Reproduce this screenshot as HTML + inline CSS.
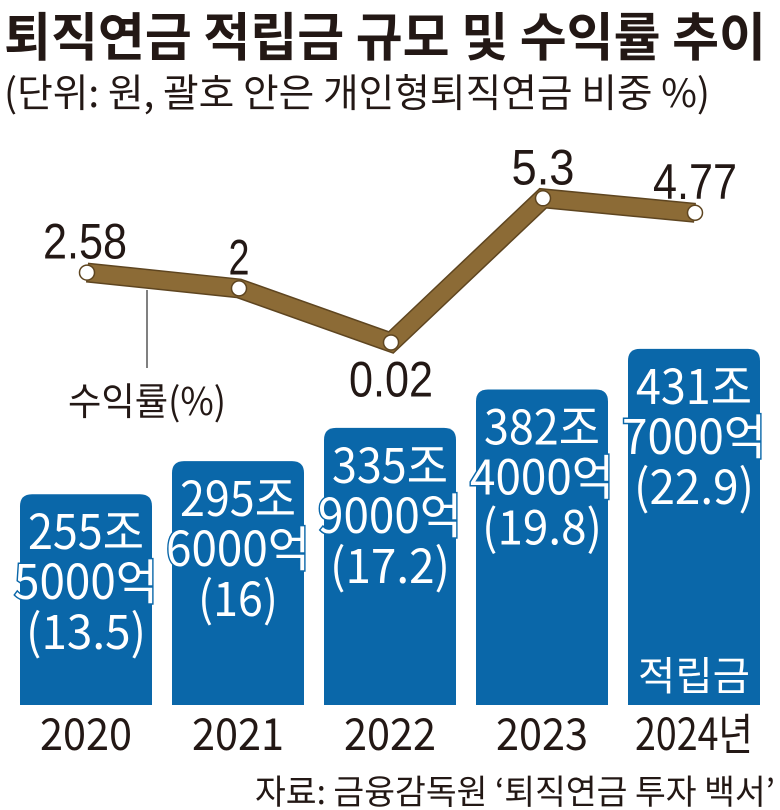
<!DOCTYPE html>
<html><head><meta charset="utf-8"><style>
html,body{margin:0;padding:0;background:#fff;}
svg{display:block;font-family:"Liberation Sans","Noto Sans CJK KR",sans-serif;}
</style></head><body>
<svg id="chart" width="780" height="810" viewBox="0 0 780 810">
<text x="4" y="56" font-size="52" font-weight="bold" fill="#231815" textLength="762" lengthAdjust="spacingAndGlyphs" font-family="Noto Sans CJK KR, sans-serif">퇴직연금 적립금 규모 및 수익률 추이</text>
<text x="4" y="107" font-size="39" fill="#231815" textLength="706" lengthAdjust="spacingAndGlyphs" font-family="Noto Sans CJK KR, sans-serif">(단위: 원, 괄호 안은 개인형퇴직연금 비중 %)</text>
<g id="bars"></g>
<g id="line"></g>
<line x1="147" y1="290" x2="147" y2="368" stroke="#555" stroke-width="1.5"/>
<text x="68" y="415" font-size="38" fill="#231815" textLength="158" lengthAdjust="spacingAndGlyphs" font-family="Noto Sans CJK KR, sans-serif">수익률(%)</text>
<text x="775" y="804" text-anchor="end" font-size="34" fill="#231815" textLength="520" lengthAdjust="spacingAndGlyphs" font-family="Noto Sans CJK KR, sans-serif">자료: 금융감독원 ‘퇴직연금 투자 백서’</text>
</svg>
<script>
const years = ["2020","2021","2022","2023","2024년"];
const amounts = [255.5, 295.6, 335.9, 382.4, 431.7];
const amountLine1 = ["255조","295조","335조","382조","431조"];
const amountLine2 = ["5000억","6000억","9000억","4000억","7000억"];
const irpShare = ["(13.5)","(16)","(17.2)","(19.8)","(22.9)"];
const returns = [2.58, 2, 0.02, 5.3, 4.77];
const returnLabels = ["2.58","2","0.02","5.3","4.77"];

const NS = "http://www.w3.org/2000/svg";
const baseY = 705, barW = 132;
function xCenter(i){ return 86 + i*152; }
function yBar(v){ return baseY - v*0.825; }
function yLine(v){ return 343 - v*27.3; }
function mk(tag, attrs, parent){ const e=document.createElementNS(NS,tag); for(const k in attrs) e.setAttribute(k,attrs[k]); parent.appendChild(e); return e; }

const gb = document.getElementById('bars');
amounts.forEach((v,i)=>{
  const cx = xCenter(i), top = yBar(v), x0 = cx-barW/2, r=12;
  const p = mk('path',{d:`M${x0},${baseY} V${top+r} Q${x0},${top} ${x0+r},${top} H${x0+barW-r} Q${x0+barW},${top} ${x0+barW},${top+r} V${baseY} Z`, fill:'#0a67a9'}, gb);
  
  
  const lines = [amountLine1[i], amountLine2[i], irpShare[i]];
  const widths = [116, 144, irpShare[i].length*20];
  lines.forEach((t,j)=>{
    const a = {x:cx, y: top+55+j*50, 'text-anchor':'middle', 'font-size':48, fill:'#fff', stroke:'#0a67a9', 'stroke-width':3, 'paint-order':'stroke', 'font-family':'Noto Sans CJK KR, sans-serif', textLength: widths[j], lengthAdjust:'spacingAndGlyphs'};
    const tx = mk('text', a, gb); tx.textContent = t;
    
    
  });
  const yl = mk('text',{x:cx, y:750, 'text-anchor':'middle', 'font-size':44, fill:'#231815', textLength: i==4?118:92, lengthAdjust:'spacingAndGlyphs', 'font-family':'Noto Sans CJK KR, sans-serif'}, gb);
  yl.textContent = years[i];
  
  
});
const sl = mk('text',{x:xCenter(4), y:690, 'text-anchor':'middle', 'font-size':40, fill:'#fff', textLength:112, lengthAdjust:'spacingAndGlyphs', 'font-family':'Noto Sans CJK KR, sans-serif'}, gb);
sl.textContent = '적립금';



const gl = document.getElementById('line');
const pts = returns.map((v,i)=>[xCenter(i)+1, yLine(v)]);
const d = pts.map((p,i)=>(i?'L':'M')+p[0]+','+p[1]).join(' ');
const lo = mk('path',{d, fill:'none', stroke:'#5e4520', 'stroke-width':20, 'stroke-linejoin':'miter'}, gl);


const li = mk('path',{d, fill:'none', stroke:'#8c6b36', 'stroke-width':17, 'stroke-linejoin':'miter'}, gl);


pts.forEach((p,i)=>{
  const c = mk('circle',{cx:p[0], cy:p[1], r:7.5, fill:'#fff', stroke:'#5e4520', 'stroke-width':1.5}, gl);
  
  
  const below = i==2;
  const t = mk('text',{x:p[0]+(i==0?-2:0), y: below? p[1]+54 : p[1]-14, 'text-anchor':'middle', 'font-size':50, fill:'#231815', 'font-family':'Liberation Sans, sans-serif', textLength: returnLabels[i].length*21, lengthAdjust:'spacingAndGlyphs'}, gl);
  t.textContent = returnLabels[i];
  
  
});
</script>
</body></html>
